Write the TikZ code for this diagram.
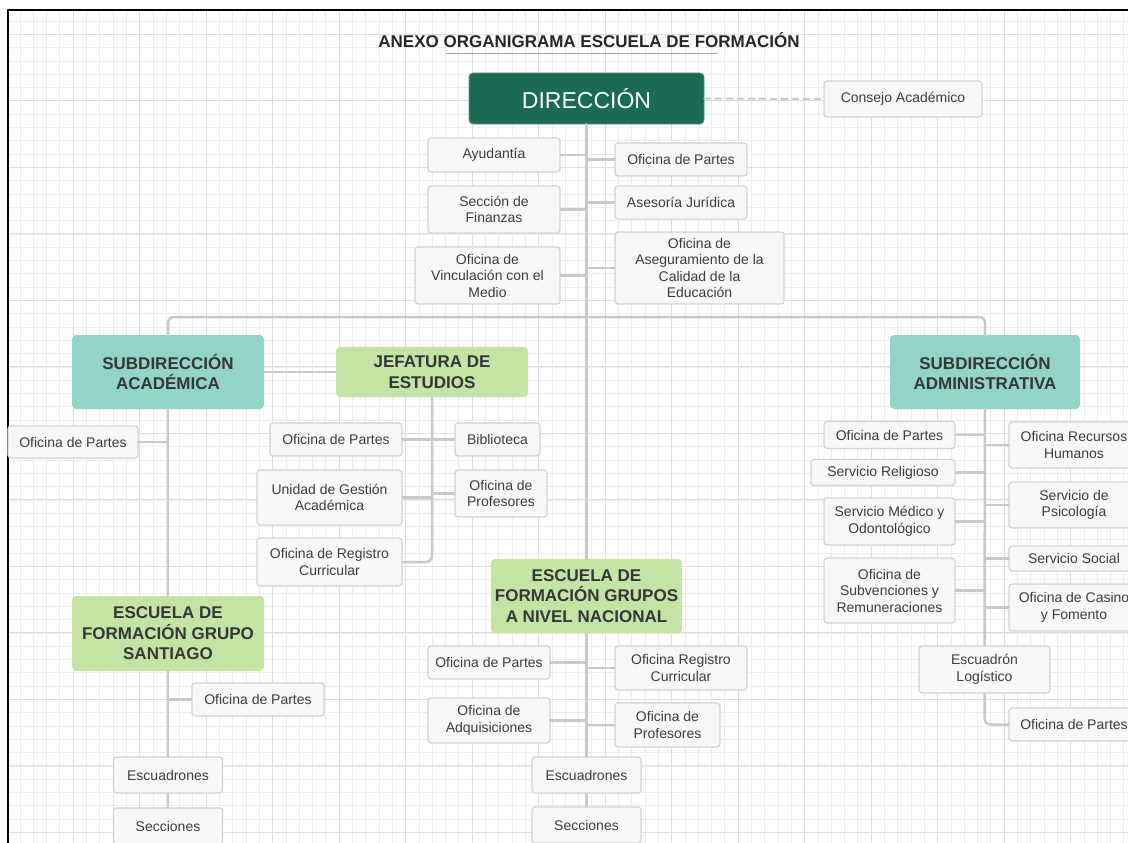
\documentclass[tikz,border=0pt]{standalone}
\usepackage{fontspec}
\setmainfont{Liberation Sans}
\definecolor{linegray}{HTML}{C9C9C9}
\definecolor{boxgray}{HTML}{F8F8F8}
\definecolor{boxedge}{HTML}{D2D2D2}
\definecolor{txtgray}{HTML}{3C3C3C}
\definecolor{headtxt}{HTML}{333836}
\definecolor{dirgreen}{HTML}{1B6A55}
\definecolor{subteal}{HTML}{93D3C8}
\definecolor{lightgreen}{HTML}{C4E4A6}
\definecolor{gridminor}{HTML}{EDEDED}
\definecolor{gridmajor}{HTML}{DEDEDE}
\tikzset{
  every picture/.style={line join=round, line cap=round},
  sz/.style 2 args={minimum width=#1pt, minimum height=#2pt},
  unit/.style={draw=boxedge, fill=boxgray, line width=1.2pt, rounded corners=3pt,
    text=txtgray, inner sep=0pt, align=center, font=\fontsize{14}{16.5}\selectfont},
  head/.style={rounded corners=4pt, text=headtxt, inner sep=0pt, align=center,
    font=\bfseries\fontsize{17}{20.5}\selectfont},
  subdir/.style={head, fill=subteal},
  school/.style={head, fill=lightgreen},
  conn/.style={draw=linegray, line width=2.5pt},
}

\begin{document}
\begin{tikzpicture}[x=1pt,y=-1pt]
\useasboundingbox (0,0) rectangle (1128,843);
\clip (0,0) rectangle (1128,843);
% grid paper
\foreach \k in {1,...,84}{\draw[gridminor,line width=0.6pt] ({6.5+13.3*\k},10)--({6.5+13.3*\k},843);}
\foreach \k in {1,...,63}{\draw[gridminor,line width=0.6pt] (8,{7.7+13.3*\k})--(1128,{7.7+13.3*\k});}
\foreach \k in {0,...,16}{\draw[gridmajor,line width=0.8pt] ({73+66.5*\k},10)--({73+66.5*\k},843);}
\foreach \k in {0,...,12}{\draw[gridmajor,line width=0.8pt] (8,{34.3+66.5*\k})--(1128,{34.3+66.5*\k});}
\draw[black,line width=2.5pt,line cap=rect] (8,843)--(8,10)--(1128,10);

% title
\node[anchor=base, font=\bfseries\fontsize{17}{20}\selectfont, text=black!85] (title) at (589,48)
  {ANEXO ORGANIGRAMA ESCUELA DE FORMACIÓN};
\draw[linegray!80!black, line width=1pt] (446,54)--(717,54);

% direccion
\node[rounded corners=4pt, fill=dirgreen, draw=dirgreen!70!white, line width=0.8pt, sz={235}{51},
  text=white, font=\fontsize{23}{26}\selectfont] (dir) at (586.5,98.5) {DIRECCIÓN};
\node[unit, sz={158}{36}] (consejo) at (903,99) {Consejo Académico};
\node[unit, sz={132}{34}] (ayud) at (494,155) {Ayudantía};
\node[unit, sz={132}{47}] (finanzas) at (494,209.5) {Sección de\\Finanzas};
\node[unit, sz={145}{57}] (vinc) at (487.5,275.5) {Oficina de\\Vinculación con el\\Medio};
\node[unit, sz={132}{33}] (opD) at (681,159.5) {Oficina de Partes};
\node[unit, sz={132}{33}] (asesoria) at (681,202.5) {Asesoría Jurídica};
\node[unit, sz={169}{72}] (asegur) at (699.5,268) {Oficina de\\Aseguramiento de la\\Calidad de la\\Educación};

% subdireccion academica
\node[subdir, sz={192}{74}] (subacad) at (168,372) {SUBDIRECCIÓN\\ACADÉMICA};
\node[school, sz={192}{50}] (jef) at (432,372) {JEFATURA DE\\ESTUDIOS};
\node[unit, sz={130}{32}] (opA) at (73,442) {Oficina de Partes};
\node[unit, sz={132}{33}] (opJ) at (336,439.5) {Oficina de Partes};
\node[unit, sz={85}{33}] (bib) at (497.5,439.5) {Biblioteca};
\node[unit, sz={145}{55}] (uga) at (329.5,497.5) {Unidad de Gestión\\Académica};
\node[unit, sz={92}{47}] (profJ) at (501,493.5) {Oficina de\\Profesores};
\node[unit, sz={145}{48}] (regcur) at (329.5,562) {Oficina de Registro\\Curricular};

% grupo santiago
\node[school, sz={192}{75}] (stgo) at (168,633.5) {ESCUELA DE\\FORMACIÓN GRUPO\\SANTIAGO};
\node[unit, sz={132}{33}] (opS) at (258,699.5) {Oficina de Partes};
\node[unit, sz={109}{36}] (escS) at (168,775) {Escuadrones};
\node[unit, sz={109}{36}] (secS) at (168,826) {Secciones};

% grupos a nivel nacional
\node[school, sz={191}{74}] (nac) at (586.5,596) {ESCUELA DE\\FORMACIÓN GRUPOS\\A NIVEL NACIONAL};
\node[unit, sz={122}{33}] (opN) at (489,662.5) {Oficina de Partes};
\node[unit, sz={122}{45}] (adq) at (489,720.5) {Oficina de\\Adquisiciones};
\node[unit, sz={132}{44}] (regN) at (681,668) {Oficina Registro\\Curricular};
\node[unit, sz={105}{44}] (profN) at (667.5,725) {Oficina de\\Profesores};
\node[unit, sz={109}{36}] (escN) at (586.5,775) {Escuadrones};
\node[unit, sz={109}{36}] (secN) at (586.5,825) {Secciones};

% subdireccion administrativa
\node[subdir, sz={190}{74}] (subadm) at (985,372) {SUBDIRECCIÓN\\ADMINISTRATIVA};
\node[unit, sz={131}{27}] (opAdm) at (889.5,435) {Oficina de Partes};
\node[unit, sz={144}{26}] (relig) at (883,472.5) {Servicio Religioso};
\node[unit, sz={131}{47}] (medico) at (889.5,521.5) {Servicio Médico y\\Odontológico};
\node[unit, sz={131}{65}] (subv) at (889.5,590.5) {Oficina de\\Subvenciones y\\Remuneraciones};
\node[unit, sz={130}{46}] (rrhh) at (1074,445) {Oficina Recursos\\Humanos};
\node[unit, sz={130}{46}] (psico) at (1074,505) {Servicio de\\Psicología};
\node[unit, sz={130}{25}] (social) at (1074,558.5) {Servicio Social};
\node[unit, sz={130}{47}] (casino) at (1074,607.5) {Oficina de Casino\\y Fomento};
\node[unit, sz={131}{47}] (esclog) at (984.5,669.5) {Escuadrón\\Logístico};
\node[unit, sz={130}{33}] (opL) at (1074,724.5) {Oficina de Partes};

% connectors
\coordinate (bus) at (586.5,317);
\draw[conn] (dir.south)--(nac.north);
\draw[conn, rounded corners=6pt] (subacad.north) |- (bus) -| (subadm.north);
\draw[linegray, line width=2pt, dash pattern=on 6pt off 5pt] (dir.east)--(consejo.west);
\foreach \n in {ayud,finanzas,vinc}{\draw[conn] (\n.east)--(\n.east -| dir.south);}
\foreach \n in {opD,asesoria,asegur}{\draw[conn] (\n.west)--(\n.west -| dir.south);}
\draw[conn] (subacad.east)--(jef.west);
\draw[conn] (subacad.south)--(stgo.north);
\draw[conn] (opA.east)--(opA.east -| subacad.south);
\draw[conn, rounded corners=6pt] (jef.south) |- (regcur.east);
\draw[conn] (opJ.east)--(bib.west);
\draw[conn] (uga.east)--(uga.east -| jef.south);
\draw[conn] (profJ.west)--(profJ.west -| jef.south);
\draw[conn] (stgo.south)--(escS.north);
\draw[conn] (escS.south)--(secS.north);
\draw[conn] (opS.west)--(opS.west -| stgo.south);
\draw[conn] (nac.south)--(escN.north);
\draw[conn] (escN.south)--(secN.north);
\foreach \n in {opN,adq}{\draw[conn] (\n.east)--(\n.east -| nac.south);}
\foreach \n in {regN,profN}{\draw[conn] (\n.west)--(\n.west -| nac.south);}
\draw[conn] (subadm.south)--(esclog.north);
\foreach \n in {opAdm,relig,medico,subv}{\draw[conn] (\n.east)--(\n.east -| subadm.south);}
\foreach \n in {rrhh,psico,social,casino}{\draw[conn] (\n.west)--(\n.west -| subadm.south);}
\draw[conn, rounded corners=6pt] (esclog.south) |- (opL.west);
\end{tikzpicture}
\end{document}
